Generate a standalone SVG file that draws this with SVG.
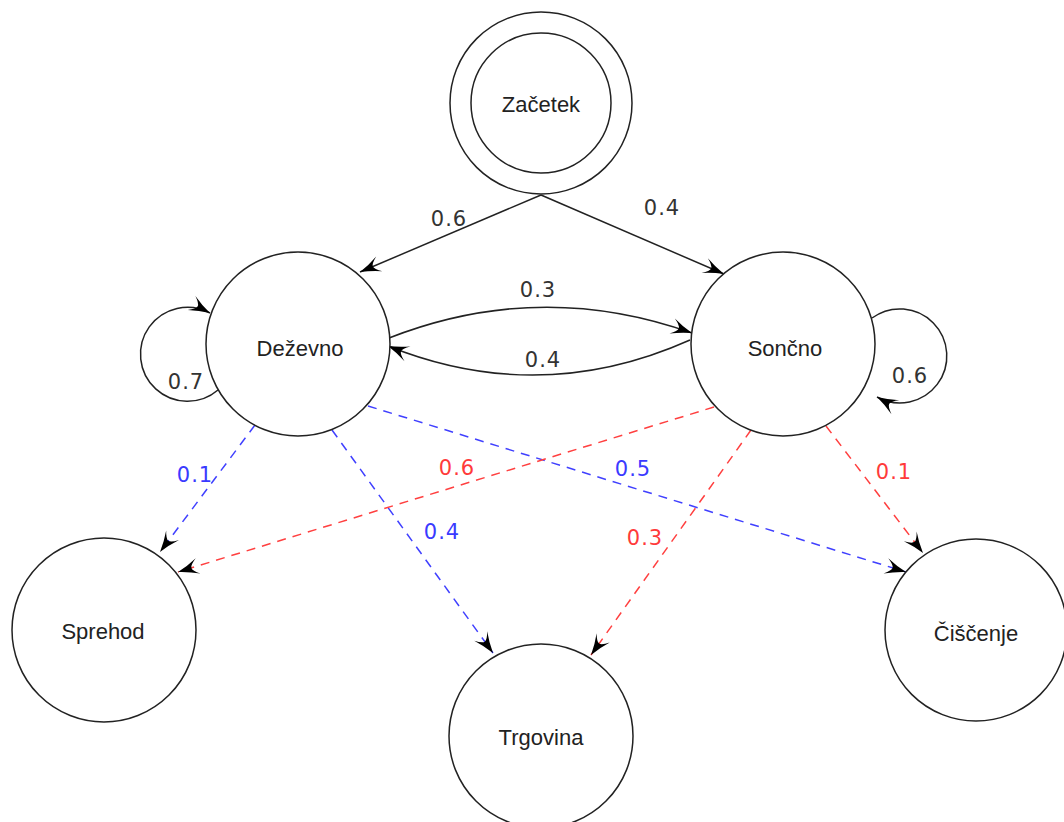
<svg xmlns="http://www.w3.org/2000/svg" width="1064" height="822" viewBox="0 0 1064 822">
<style>
.node{fill:#fff;stroke:#222;stroke-width:1.5}
.nl{font-family:"Liberation Sans",Arial,sans-serif;font-size:22px;fill:#222;text-anchor:middle}
.el{font-family:"DejaVu Sans",sans-serif;font-size:21px;text-anchor:middle;letter-spacing:1px}
.k{fill:#333}
.b{fill:#3a3aff}
.r{fill:#ff3a3a}
.e{fill:none;stroke:#222;stroke-width:1.5}
.db{fill:none;stroke:#4040ff;stroke-width:1.5;stroke-dasharray:9 7}
.dr{fill:none;stroke:#ff4040;stroke-width:1.5;stroke-dasharray:9 7}
</style>
<defs>
<marker id="arr" viewBox="-22 -9 24 18" refX="0" refY="0" markerWidth="24" markerHeight="18" orient="auto" markerUnits="userSpaceOnUse">
<path d="M0,0 Q-11,-3 -21,-8 Q-14,-3 -14,0 Q-14,3 -21,8 Q-11,3 0,0 Z" fill="#000"/>
</marker>
</defs>
<rect width="1064" height="822" fill="#fff"/>
<g id="connectors">
<path class="e" d="M541,195 L360,272" marker-end="url(#arr)"/>
<path class="e" d="M541,195 L724,274" marker-end="url(#arr)"/>
<path class="e" d="M389,338 Q540,279 692,333" marker-end="url(#arr)"/>
<path class="e" d="M690,340 Q540,407 388,346" marker-end="url(#arr)"/>
<path class="e" d="M218,390 A47,47 0 1 1 210,313" marker-end="url(#arr)"/>
<path class="e" d="M872,318 A47,47 0 1 1 877,397" marker-end="url(#arr)"/>
<path class="db" d="M255,425 L160,552" marker-end="url(#arr)"/>
<path class="db" d="M332,430 L493,653" marker-end="url(#arr)"/>
<path class="db" d="M368,406 L906,572" marker-end="url(#arr)"/>
<path class="dr" d="M714,407 L178,572" marker-end="url(#arr)"/>
<path class="dr" d="M751,430 L591,655" marker-end="url(#arr)"/>
<path class="dr" d="M826,426 L923,553" marker-end="url(#arr)"/>
<text class="el k" x="449" y="226">0.6</text>
<text class="el k" x="662" y="215">0.4</text>
<text class="el k" x="538" y="297">0.3</text>
<text class="el k" x="543" y="367">0.4</text>
<text class="el k" x="186" y="389">0.7</text>
<text class="el k" x="910" y="383">0.6</text>
<text class="el b" x="195" y="482">0.1</text>
<text class="el b" x="442" y="539">0.4</text>
<text class="el b" x="633" y="476">0.5</text>
<text class="el r" x="457" y="475">0.6</text>
<text class="el r" x="894" y="479">0.1</text>
<text class="el r" x="645" y="545">0.3</text>
</g>
<g id="zacetek">
<circle class="node" cx="541" cy="103" r="91"/>
<circle class="node" cx="541" cy="103" r="70"/>
<text class="nl" x="541" y="112">Začetek</text>
</g>
<g id="dezevno">
<circle class="node" cx="298" cy="344" r="92"/>
<text class="nl" x="300" y="356">Deževno</text>
</g>
<g id="soncno">
<circle class="node" cx="783" cy="344" r="92"/>
<text class="nl" x="785" y="356">Sončno</text>
</g>
<g id="sprehod">
<circle class="node" cx="104" cy="630" r="92"/>
<text class="nl" x="103" y="639">Sprehod</text>
</g>
<g id="trgovina">
<circle class="node" cx="541" cy="736" r="92"/>
<text class="nl" x="541" y="745">Trgovina</text>
</g>
<g id="ciscenje">
<circle class="node" cx="976" cy="630" r="91"/>
<text class="nl" x="976" y="641">Čiščenje</text>
</g>
</svg>
